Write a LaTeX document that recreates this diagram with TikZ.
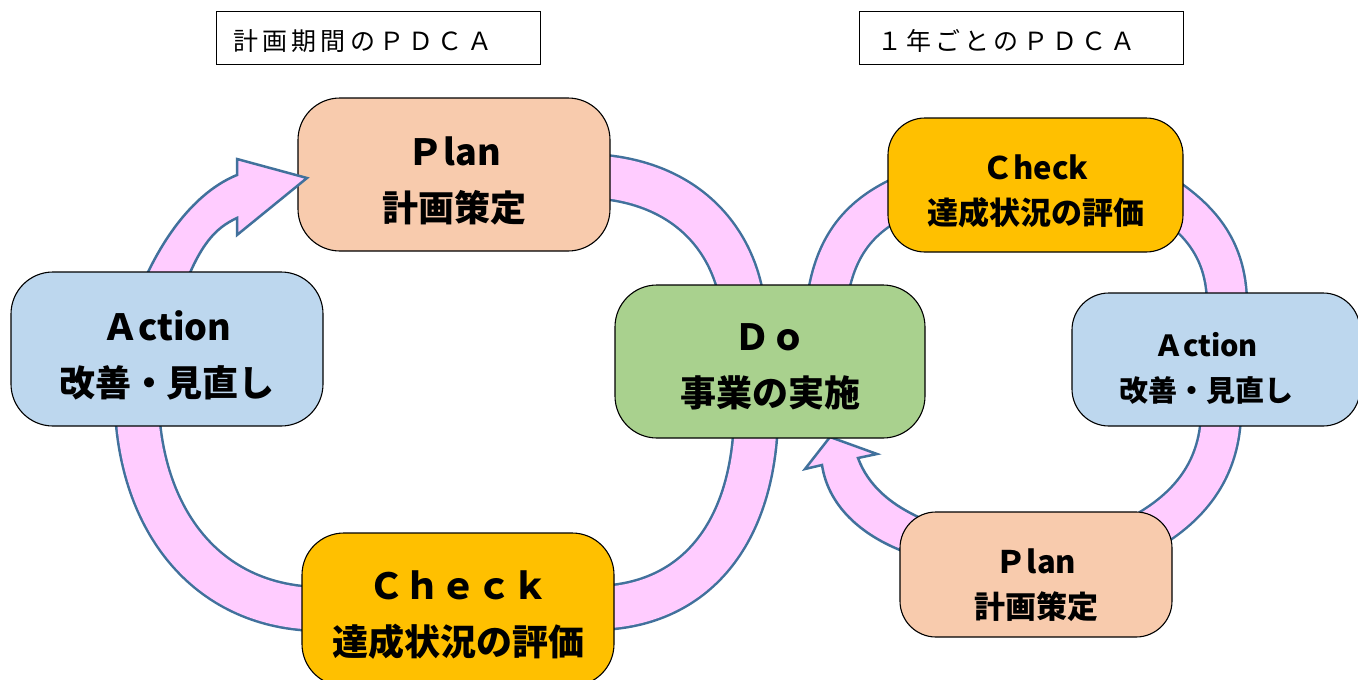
\documentclass[tikz,border=0pt]{standalone}
\usepackage{fontspec}
\setmainfont{Noto Sans CJK JP}
\newfontfamily\titlefont{Noto Sans CJK JP}[LetterSpace=17]
\definecolor{peach}{HTML}{F8CBAD}
\definecolor{lblue}{HTML}{BDD7EE}
\definecolor{lgreen}{HTML}{A9D18E}
\definecolor{gold}{HTML}{FFC000}
\definecolor{bandpink}{HTML}{FFCCFF}
\definecolor{bandline}{HTML}{41719C}
\begin{document}
\begin{tikzpicture}[x=1pt,y=-1pt,
  boxshape/.style={draw=black, line width=1.1pt, rounded corners=#1, inner sep=0pt},
  bandL/.style={draw=bandline, line width=2.5pt, double=bandpink, double distance=41.5pt},
  bandR/.style={draw=bandline, line width=2.5pt, double=bandpink, double distance=37.5pt},
  arrowband/.style={draw=bandline, fill=bandpink, line width=2.5pt, line join=miter},
  txtL/.style={font=\bfseries\fontsize{36}{56}\selectfont, align=center, inner sep=0pt},
  txtR/.style={font=\bfseries\fontsize{31}{45}\selectfont, align=center, inner sep=0pt},
  titlebox/.style={draw=black, line width=0.9pt, minimum width=324pt, minimum height=53pt, inner sep=0pt},
  titletxt/.style={font=\titlefont\fontsize{25}{30}\selectfont, anchor=west, inner sep=0pt}
]
\useasboundingbox (0,0) rectangle (1358,680);
\clip (0,0) rectangle (1358,680);

% connector bands (drawn first, hidden under boxes at their ends)
\coordinate (a1) at (590,176);
\coordinate (a2) at (742,300);
\coordinate (b1) at (756,420);
\coordinate (b2) at (595,608);
\coordinate (c1) at (320,609);
\coordinate (c2) at (137,410);
\coordinate (e1) at (827,300);
\coordinate (e2) at (905,195);
\coordinate (f1) at (1170,200);
\coordinate (f2) at (1227,305);
\coordinate (g1) at (1221,415);
\coordinate (g2) at (1140,535);

\draw[bandL] (a1) .. controls (685,180) and (732,238) .. (a2);
\draw[bandL] (b1) .. controls (752,540) and (690,607) .. (b2);
\draw[bandL] (c1) .. controls (210,608) and (143,525) .. (c2);
\draw[bandR] (e1) .. controls (835,245) and (860,215) .. (e2);
\draw[bandR] (f1) .. controls (1205,225) and (1227,255) .. (f2);
\draw[bandR] (g1) .. controls (1219,470) and (1190,508) .. (g2);

% right cycle arrow into Do
\filldraw[arrowband] (905,552) .. controls (860,535) and (828,505) .. (822,465)
  -- (805,469) -- (830,437) -- (877,454) -- (858,458)
  .. controls (868,485) and (890,505) .. (925,520) -- cycle;

% left: Plan
\node[boxshape=42pt, fill=peach, minimum width=312pt, minimum height=153pt] (planL) at (454,174.5) {};
\node[txtL] (planLt) at (454,181) {Ｐlan\\計画策定};

% left cycle arrow into Plan
\filldraw[arrowband] (140,290) .. controls (165,230) and (200,190) .. (237,175)
  -- (237,159) -- (307,178) -- (237,235) -- (237,218)
  .. controls (215,228) and (200,245) .. (183,290) -- cycle;

\node[boxshape=42pt, fill=lblue, minimum width=312pt, minimum height=154pt] (actL) at (167,349) {};
\node[txtL] (actLt) at (167,355) {Ａction\\改善・見直し};

\node[boxshape=42pt, fill=lgreen, minimum width=310pt, minimum height=153pt] (do) at (770,361.5) {};
\node[txtL] (dot) at (770,367) {Ｄｏ\\事業の実施};

\node[boxshape=42pt, fill=gold, minimum width=312pt, minimum height=153pt] (chkL) at (458,609.5) {};
\node[txtL] (chkLt) at (458,615) {Ｃｈｅｃｋ\\達成状況の評価};

% right cycle boxes
\node[boxshape=37pt, fill=gold, minimum width=295pt, minimum height=134pt] (chkR) at (1035.5,185) {};
\node[txtR] (chkRt) at (1035.5,191) {Ｃheck\\達成状況の評価};

\node[boxshape=37pt, fill=lblue, minimum width=288pt, minimum height=133pt] (actR) at (1216,359.5) {};
\node[txtR, font=\bfseries\fontsize{29}{45}\selectfont] (actRt) at (1206,368) {Ａction\\改善・見直し};

\node[boxshape=36pt, fill=peach, minimum width=272pt, minimum height=125pt] (planR) at (1036,574.5) {};
\node[txtR] (planRt) at (1036,585) {Ｐlan\\計画策定};

% titles
\node[titlebox] (t1) at (378,37.5) {};
\node[titletxt] (t1t) at (233,41) {計画期間のＰＤＣＡ};
\node[titlebox] (t2) at (1021,37.5) {};
\node[titletxt] (t2t) at (877,41) {１年ごとのＰＤＣＡ};
\end{tikzpicture}
\end{document}
